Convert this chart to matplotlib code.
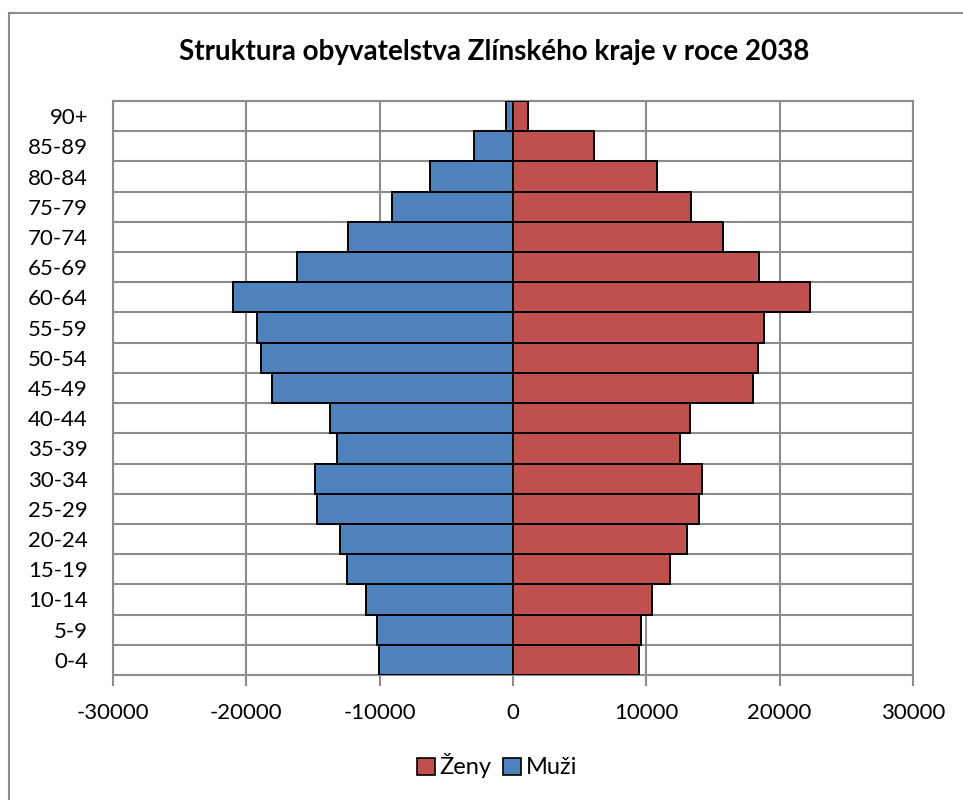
import numpy as np
import matplotlib
matplotlib.use("Agg")
import matplotlib.pyplot as plt
from matplotlib.lines import Line2D
from matplotlib.patches import Patch

plt.rcParams['font.family'] = ['Lato', 'DejaVu Sans']

# age groups from youngest to oldest
vekove_skupiny = ['0-4', '5-9', '10-14', '15-19', '20-24', '25-29', '30-34',
                  '35-39', '40-44', '45-49', '50-54', '55-59', '60-64',
                  '65-69', '70-74', '75-79', '80-84', '85-89', '90+']
muzi = [10050, 10180, 11030, 12430, 12980, 14700, 14880, 13180, 13700,
        18110, 18880, 19200, 21000, 16230, 12380, 9080, 6260, 2960, 520]
zeny = [9450, 9600, 10400, 11750, 13030, 13950, 14200, 12550, 13300,
        18000, 18350, 18800, 22250, 18450, 15750, 13330, 10800, 6110, 1100]
x_ticks = [-30000, -20000, -10000, 0, 10000, 20000, 30000]

blue = '#4F81BD'
red = '#C0504D'
grid_c = '#8C8C8C'

fig = plt.figure(figsize=(9.63, 8), dpi=100)
W, H = 963, 800
ax = fig.add_axes([113 / W, 1 - 675 / H, 800 / W, 574 / H])

y = np.arange(len(vekove_skupiny))
ax.barh(y, -np.array(muzi), height=1.0, color=blue, edgecolor='black',
        linewidth=1.4, zorder=3)
ax.barh(y, zeny, height=1.0, color=red, edgecolor='black',
        linewidth=1.4, zorder=3)

ax.set_xlim(-30000, 30000)
ax.set_ylim(-0.5, len(vekove_skupiny) - 0.5)
ax.set_xticks(x_ticks)
ax.set_xticklabels([str(v) for v in x_ticks])
ax.set_yticks(y)
ax.set_yticklabels(vekove_skupiny)
ax.set_yticks(np.arange(-0.5, len(vekove_skupiny)), minor=True)

ax.tick_params(axis='x', length=8, width=1.5, color=grid_c, pad=12,
               labelsize=16)
ax.tick_params(axis='y', which='major', length=0, pad=18, labelsize=16)
ax.tick_params(axis='y', which='minor', length=0)
ax.grid(True, axis='x', color=grid_c, linewidth=1.5, zorder=0)
ax.grid(True, axis='y', which='minor', color=grid_c, linewidth=1.5, zorder=0)
for s in ax.spines.values():
    s.set_color(grid_c)
    s.set_linewidth(1.5)

# vertical category axis at zero with its tick marks
sec = ax.secondary_yaxis(0.5)
sec.set_yticks(np.arange(-0.5, len(vekove_skupiny)))
sec.set_yticklabels([])
sec.tick_params(length=8, width=1.5, color='#404040')
sec.spines['left'].set_color(grid_c)
sec.spines['left'].set_linewidth(1.5)

fig.text(494 / W, 1 - 52 / H, 'Struktura obyvatelstva Zlínského kraje v roce 2038',
         ha='center', va='center', fontsize=20, fontweight='bold')

handles = [Patch(facecolor=red, edgecolor='black', linewidth=1.2, label='Ženy'),
           Patch(facecolor=blue, edgecolor='black', linewidth=1.2, label='Muži')]
fig.legend(handles=handles, loc='center', bbox_to_anchor=(497 / W, 1 - 766 / H),
           ncol=2, frameon=False, fontsize=17, handlelength=0.75,
           handleheight=0.75, handletextpad=0.2, columnspacing=0.5)

# chart area border (cropped on the right and bottom)
fig.add_artist(Line2D([8.5 / W, 1], [1 - 13 / H, 1 - 13 / H], color=grid_c,
                      linewidth=1.5, transform=fig.transFigure))
fig.add_artist(Line2D([8.5 / W, 8.5 / W], [0, 1 - 13 / H], color=grid_c,
                      linewidth=1.5, transform=fig.transFigure))

fig.savefig('out.png', dpi=100, facecolor='white')
